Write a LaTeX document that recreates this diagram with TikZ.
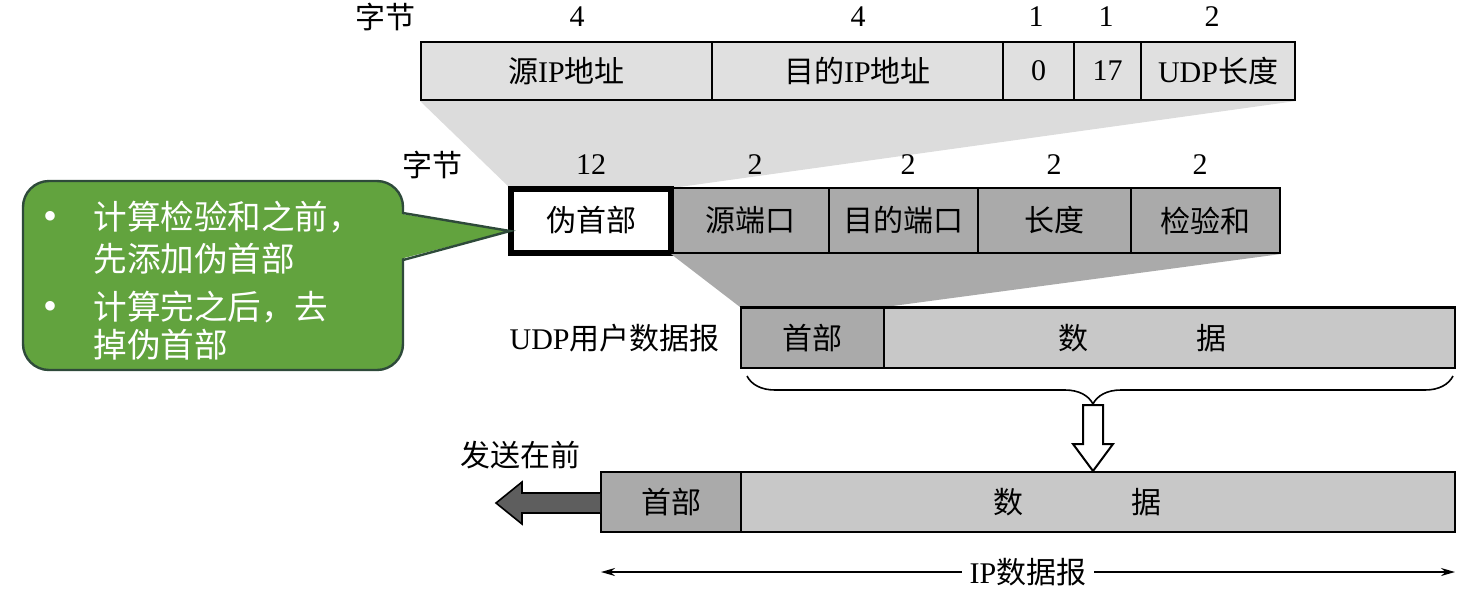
\documentclass[tikz,border=0pt]{standalone}
\usepackage{fontspec}
\setmainfont{Liberation Serif}
\newfontfamily\cjk{Noto Sans CJK SC}
\usetikzlibrary{arrows.meta,decorations.pathreplacing,calc}
\newcommand\zh[1]{{\cjk #1}}

\definecolor{toprow}{HTML}{E0E0E0}
\definecolor{funnellight}{HTML}{DCDCDC}
\definecolor{hdrgray}{HTML}{AAAAAA}
\definecolor{datagray}{HTML}{C8C8C8}
\definecolor{notegreen}{HTML}{62A33E}
\definecolor{noteedge}{HTML}{2E4A3A}
\definecolor{sendgray}{HTML}{5E5E5E}

\begin{document}
\begin{tikzpicture}[x=0.5pt,y=-0.5pt,
  field/.style={draw=black, line width=1pt, rectangle, inner sep=0pt,
    anchor=center, font=\fontsize{15}{18}\selectfont},
  toprowfield/.style={field, fill=toprow, minimum height=29pt},
  udpfield/.style={field, fill=hdrgray, minimum height=32.5pt},
  lab/.style={inner sep=0pt, font=\fontsize{15}{18}\selectfont},
  notetext/.style={inner sep=0pt, text=white, font=\cjk\fontsize{16.8}{21}\selectfont},
  notebullet/.style={inner sep=0pt, text=white, font=\fontsize{20}{21}\selectfont},
  dimarrow/.style={arrows={Stealth[length=7pt,width=4pt]-Stealth[length=7pt,width=4pt]}, line width=0.8pt}
]
\useasboundingbox (0,0) rectangle (1484,601);

% pseudo header fields
\node[toprowfield, minimum width=145.5pt] (sip) at (566.5,71) {\zh{源}IP\zh{地址}};
\node[toprowfield, minimum width=145.5pt] (dip) at (857.5,71) {\zh{目的}IP\zh{地址}};
\node[toprowfield, minimum width=35.5pt] (zero) at (1038.5,71) {0};
\node[toprowfield, minimum width=33.5pt] (proto) at (1107.5,71) {17};
\node[toprowfield, minimum width=77pt] (ulen) at (1218,71) {UDP\zh{长度}};

\node[lab] (bytesA) at (385,17) {\zh{字节}};
\node[lab] (nA1) at (577,17) {4};
\node[lab] (nA2) at (858,17) {4};
\node[lab] (nA3) at (1036,17) {1};
\node[lab] (nA4) at (1106,17) {1};
\node[lab] (nA5) at (1212,17) {2};

% UDP header fields (second row) and funnels
\coordinate (phnw) at (510,188);
\coordinate (phne) at (672,188);
\fill[funnellight] (sip.south west) -- (ulen.south east) -- (phne) -- (phnw) -- cycle;

\node[udpfield, minimum width=78.5pt] (sport) at (750.5,220.5) {\zh{源端口}};
\node[udpfield, minimum width=74.5pt] (dport) at (903.5,220.5) {\zh{目的端口}};
\node[udpfield, minimum width=76.5pt] (len) at (1054.5,220.5) {\zh{长度}};
\node[udpfield, minimum width=74.5pt] (csum) at (1205.5,220.5) {\zh{检验和}};
\node[field, fill=white, line width=3pt, minimum width=80pt, minimum height=32pt] (ph) at (591,220.5) {\zh{伪首部}};

\node[lab] (bytesB) at (432,165) {\zh{字节}};
\node[lab] (nB1) at (591,165) {12};
\node[lab] (nB2) at (755,165) {2};
\node[lab] (nB3) at (908,165) {2};
\node[lab] (nB4) at (1054,165) {2};
\node[lab] (nB5) at (1200,165) {2};

% UDP user datagram
\node[field, fill=hdrgray, minimum width=71.5pt, minimum height=30pt] (udph) at (812.5,338) {\zh{首部}};
\node[field, fill=datagray, minimum width=285.5pt, minimum height=30pt] (udpd) at (1169.5,338) {};
\fill[hdrgray] (sport.south west) -- (csum.south east) -- (udph.north east) -- (udph.north west) -- cycle;
\draw[line width=1pt] (udph.north west) -- (udpd.north east);
\node[lab] (udpdA) at (1073,338) {\zh{数}};
\node[lab] (udpdB) at (1211,338) {\zh{据}};
\node[lab, anchor=east] (udplab) at (720,338) {UDP\zh{用户数据报}};

% brace and encapsulation arrow
\draw[decorate, decoration={brace, mirror, amplitude=14pt, aspect=0.49}, line width=0.8pt]
  ($(udph.south west)+(7,7)$) -- ($(udpd.south east)+(-3,7)$);
\draw[fill=white, line width=1pt] (1083,405) -- (1103,405) -- (1103,444) -- (1113,444)
  -- (1093,471) -- (1073,444) -- (1083,444) -- cycle;

% IP datagram
\node[field, fill=hdrgray, minimum width=70pt, minimum height=30pt] (iph) at (671,502) {\zh{首部}};
\node[field, fill=datagray, minimum width=357pt, minimum height=30pt] (ipd) at (1098,502) {};
\node[lab] (ipdA) at (1008,502) {\zh{数}};
\node[lab] (ipdB) at (1146,502) {\zh{据}};

\node[lab] (sendfirst) at (520,455) {\zh{发送在前}};
\draw[fill=sendgray, line width=0.8pt] (iph.west |- 0,493) -- (522,493) -- (522,482) -- (496,503)
  -- (522,524) -- (522,513) -- (iph.west |- 0,513);

\coordinate (dl) at (601,572);
\coordinate (dr) at (1455,572);
\draw[dimarrow] (dl) -- (dr);
\node[lab, fill=white, inner xsep=4pt] (iplab) at (1028,572) {IP\zh{数据报}};

% callout note: rounded body plus a pointer towards the pseudo header
\coordinate (notetip) at (510,231);
\draw[fill=notegreen, draw=noteedge, line width=1.2pt, rounded corners=13pt]
  (23,181) rectangle (403,370);
\fill[notegreen] (396,213) -- (notetip) -- (396,260) -- cycle;
\draw[draw=noteedge, line width=1.2pt, line join=miter] (403,213) -- (notetip) -- (403,260);
\node[notebullet, anchor=base] (bulA) at (51,229) {•};
\node[notetext, anchor=base west] (lineA1) at (93,229) {计算检验和之前，};
\node[notetext, anchor=base west] (lineA2) at (93,271) {先添加伪首部};
\node[notebullet, anchor=base] (bulB) at (51,319) {•};
\node[notetext, anchor=base west] (lineB1) at (93,319) {计算完之后，去};
\node[notetext, anchor=base west] (lineB2) at (93,357) {掉伪首部};
\end{tikzpicture}
\end{document}
